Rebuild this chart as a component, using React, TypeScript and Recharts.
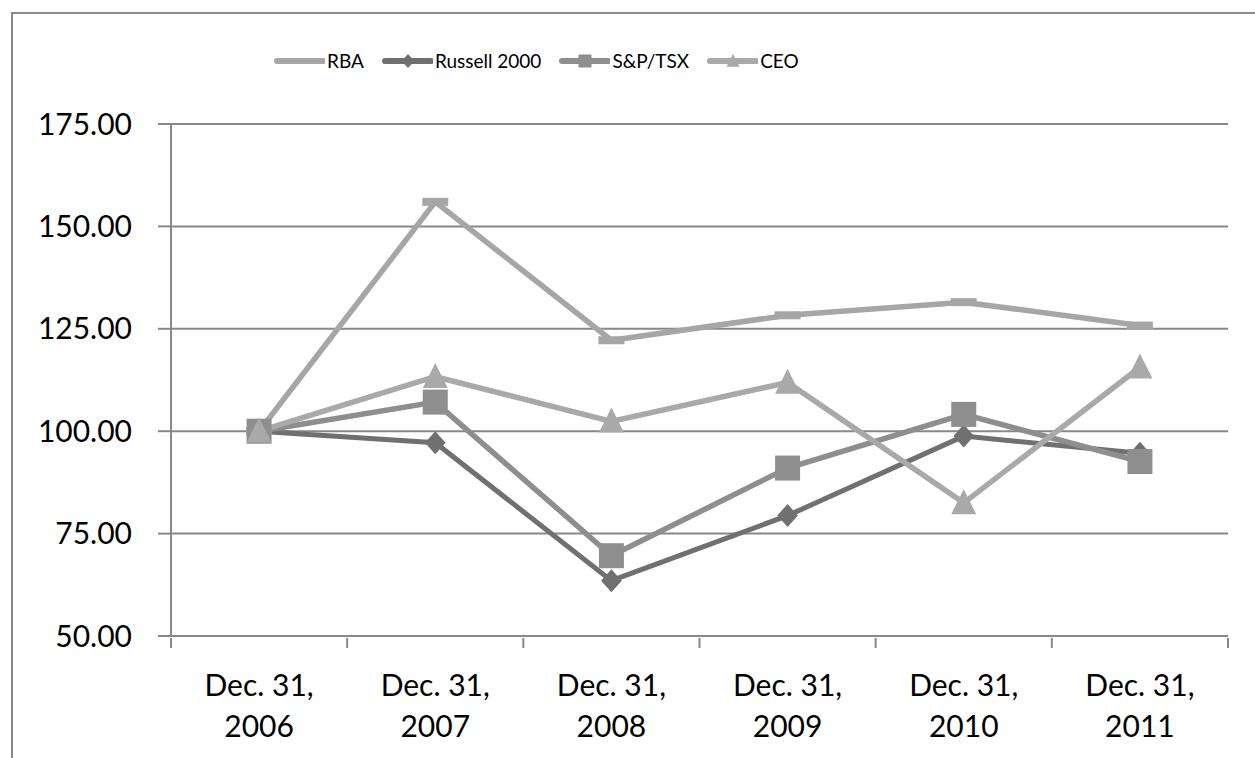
import { LineChart, Line, XAxis, YAxis, CartesianGrid, Legend } from "recharts";

const years = ["2006", "2007", "2008", "2009", "2010", "2011"];
const rba = [100, 156.0, 122.2, 128.3, 131.5, 125.8];
const russell = [100, 97.2, 63.5, 79.4, 98.8, 94.6];
const spTsx = [100, 107.1, 69.6, 91.0, 104.1, 92.6];
const ceo = [100, 113.3, 102.4, 111.9, 82.5, 115.6];
const yTicks = [50, 75, 100, 125, 150, 175];

const data = years.map((y, i) => ({
  label: y,
  rba: rba[i],
  russell: russell[i],
  sptsx: spTsx[i],
  ceo: ceo[i],
}));

const AXIS = "#888888";
const FONT = "Lato, 'Open Sans', sans-serif";
const PLOT_LEFT = 171;
const PLOT_RIGHT = 1228;
const BAND = (PLOT_RIGHT - PLOT_LEFT) / years.length;

const series = [
  { key: "rba", name: "RBA", color: "#a6a6a6", width: 5.5, shape: "dash" },
  { key: "russell", name: "Russell 2000", color: "#707070", width: 5, shape: "diamond" },
  { key: "sptsx", name: "S&P/TSX", color: "#8e8e8e", width: 5.5, shape: "square" },
  { key: "ceo", name: "CEO", color: "#a9a9a9", width: 5.5, shape: "triangle" },
];

function Marker({ shape, cx, cy, color, s }: any) {
  if (shape === "dash") {
    return <rect x={cx - s * 0.52} y={cy - s * 0.16} width={s * 1.04} height={s * 0.32} fill={color} />;
  }
  if (shape === "diamond") {
    const h = s * 0.5;
    return <polygon points={`${cx},${cy - h} ${cx + h * 0.9},${cy} ${cx},${cy + h} ${cx - h * 0.9},${cy}`} fill={color} />;
  }
  if (shape === "square") {
    return <rect x={cx - s / 2} y={cy - s / 2} width={s} height={s} fill={color} />;
  }
  const h = s * 0.5;
  return <polygon points={`${cx},${cy - h * 1.1} ${cx + h},${cy + h * 0.9} ${cx - h},${cy + h * 0.9}`} fill={color} />;
}

function makeDot(shape: string, color: string, size: number) {
  return (props: any) => {
    const { cx, cy, index } = props;
    if (cx == null || cy == null) return <g key={`d-${index}`} />;
    return (
      <g key={`d-${shape}-${index}`}>
        <Marker shape={shape} cx={cx} cy={cy} color={color} s={size} />
      </g>
    );
  };
}

const dotSize: Record<string, number> = { dash: 25, diamond: 23, square: 25, triangle: 25 };

function XTick(props: any) {
  const { x, y, payload, index } = props;
  const right = x + BAND / 2;
  const left = x - BAND / 2;
  return (
    <g>
      <line x1={right} y1={y} x2={right} y2={y + 10} stroke={AXIS} strokeWidth={2} />
      {index === 0 && <line x1={left} y1={y} x2={left} y2={y + 10} stroke={AXIS} strokeWidth={2} />}
      <text x={x} y={y + 46} textAnchor="middle" dominantBaseline="central" fontSize={30} fill="#000" fontFamily={FONT}>
        Dec. 31,
      </text>
      <text x={x} y={y + 87} textAnchor="middle" dominantBaseline="central" fontSize={30} fill="#000" fontFamily={FONT}>
        {payload.value}
      </text>
    </g>
  );
}

function LegendContent() {
  return (
    <div style={{ display: "flex", alignItems: "center", fontFamily: FONT, fontSize: 19, color: "#000" }}>
      {series.map((s, i) => (
        <div key={s.key} style={{ display: "flex", alignItems: "center", marginLeft: i === 0 ? 0 : 17 }}>
          <svg width={52} height={20}>
            <line x1={4} y1={10} x2={50} y2={10} stroke={s.color} strokeWidth={6} strokeLinecap="round" />
            {s.shape !== "dash" && (
              <Marker shape={s.shape} cx={27} cy={10} color={s.color} s={s.shape === "diamond" ? 14 : 13} />
            )}
          </svg>
          <span style={{ marginLeft: 2 }}>{s.name}</span>
        </div>
      ))}
    </div>
  );
}

export default function App() {
  return (
    <div style={{ position: "absolute", left: 0, top: 0, width: 1255, height: 758, overflow: "hidden", background: "#fff" }}>
      <div
        style={{
          position: "absolute",
          left: 11,
          top: 12,
          width: 1400,
          height: 900,
          border: `2px solid ${AXIS}`,
          boxSizing: "border-box",
        }}
      />
      <div style={{ position: "absolute", left: 0, top: 0 }}>
        <LineChart
          width={1255}
          height={758}
          data={data}
          margin={{ top: 101, right: 1255 - PLOT_RIGHT, left: 0, bottom: 0 }}
          style={{ fontFamily: FONT }}
        >
          <CartesianGrid vertical={false} stroke={AXIS} strokeWidth={2} />
          <XAxis
            dataKey="label"
            scale="band"
            interval={0}
            height={122}
            tickLine={false}
            tickSize={0}
            axisLine={{ stroke: AXIS, strokeWidth: 2 }}
            tick={<XTick />}
          />
          <YAxis
            width={PLOT_LEFT}
            domain={[50, 175]}
            ticks={yTicks}
            tickFormatter={(v: number) => v.toFixed(2)}
            tickSize={13}
            tickMargin={26}
            tickLine={{ stroke: AXIS, strokeWidth: 2 }}
            axisLine={{ stroke: AXIS, strokeWidth: 2 }}
            tick={{ fontSize: 30, fill: "#000", fontFamily: FONT }}
            allowDataOverflow
          />
          <Legend
            verticalAlign="top"
            align="left"
            content={<LegendContent />}
            wrapperStyle={{ left: 273, top: 49, width: "auto" }}
          />
          {series.map((s) => (
            <Line
              key={s.key}
              dataKey={s.key}
              name={s.name}
              stroke={s.color}
              strokeWidth={s.width}
              dot={makeDot(s.shape, s.color, dotSize[s.shape])}
              activeDot={false}
              isAnimationActive={false}
            />
          ))}
        </LineChart>
      </div>
    </div>
  );
}
